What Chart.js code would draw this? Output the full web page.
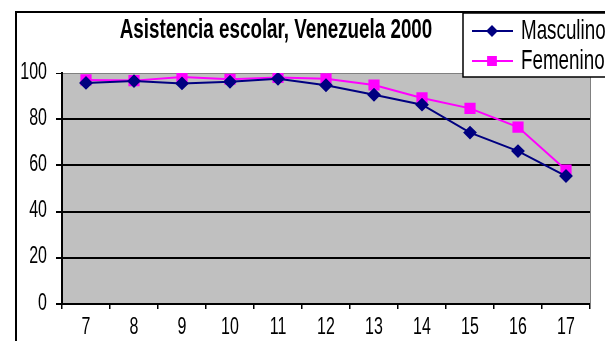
<!DOCTYPE html>
<html>
<head>
<meta charset="utf-8">
<script src="https://cdn.jsdelivr.net/npm/chart.js@4"></script>
<style>
  body { margin: 0; background: #fff; }
  #grafica { display: block; }
</style>
</head>
<body>
<canvas id="grafica" width="605" height="341"></canvas>
<script>
const edades = ['7', '8', '9', '10', '11', '12', '13', '14', '15', '16', '17'];
const masculino = [95.7, 96.5, 95.5, 96.2, 97.5, 94.7, 90.6, 86.3, 74.2, 66.2, 55.4];
const femenino = [97.0, 96.7, 98.3, 97.3, 98.1, 97.5, 94.8, 89.2, 84.7, 76.6, 58.0];
const titulo = 'Asistencia escolar, Venezuela 2000';

const fuente = "'Liberation Sans', Arial, sans-serif";

// texto estirado (angosto y alto) como en el grafico original de Excel
function texto(ctx, str, x, y, align, size, bold) {
    ctx.save();
    ctx.translate(x, y);
    ctx.scale(0.94, 1.4);
    ctx.font = (bold ? 'bold ' : '') + size + 'px ' + fuente;
    ctx.textAlign = align;
    ctx.textBaseline = 'middle';
    ctx.fillStyle = '#000';
    ctx.fillText(str, 0, 0);
    ctx.restore();
}

const marco = {
    id: 'marco',
    beforeDraw(chart) {
        const ctx = chart.ctx;
        const a = chart.chartArea;
        ctx.save();
        ctx.fillStyle = '#C0C0C0';
        ctx.fillRect(a.left, a.top, a.right - a.left, a.bottom - a.top);
        ctx.strokeStyle = '#000';
        ctx.lineWidth = 2;
        ctx.strokeRect(16, 12, 700, 400);
        ctx.restore();
    },
    beforeDatasetsDraw(chart) {
        const ctx = chart.ctx;
        const a = chart.chartArea;
        ctx.save();
        ctx.strokeStyle = '#808080';
        ctx.lineWidth = 1;
        ctx.beginPath();
        ctx.moveTo(a.right + 0.5, a.top);
        ctx.lineTo(a.right + 0.5, a.bottom);
        ctx.stroke();
        ctx.restore();
    },
    afterDraw(chart) {
        const ctx = chart.ctx;
        const sx = chart.scales.x;
        const sy = chart.scales.y;

        // etiquetas de los ejes
        sx.ticks.forEach((t, i) => {
            texto(ctx, String(t.label), sx.getPixelForTick(i), 327, 'center', 17);
        });
        sy.ticks.forEach((t, i) => {
            texto(ctx, String(t.label), 47, sy.getPixelForTick(i) - 1, 'right', 17);
        });

        texto(ctx, titulo, 276, 30, 'center', 20, true);

        // leyenda
        ctx.save();
        ctx.fillStyle = '#fff';
        ctx.fillRect(463, 13, 200, 64);
        ctx.strokeStyle = '#000';
        ctx.lineWidth = 1.5;
        ctx.strokeRect(463, 13, 200, 64);
        const filas = [31, 61];
        chart.data.datasets.forEach((ds, i) => {
            const y = filas[i];
            ctx.strokeStyle = ds.borderColor;
            ctx.fillStyle = ds.borderColor;
            ctx.lineWidth = 2;
            ctx.beginPath();
            ctx.moveTo(472, y);
            ctx.lineTo(513, y);
            ctx.stroke();
            Chart.helpers.drawPoint(ctx, {
                pointStyle: ds.pointStyle,
                radius: ds.pointStyle === 'rect' ? 5.5 : 4.5,
                borderWidth: 1
            }, 492, y);
            texto(ctx, ds.label, 521, y, 'left', 20);
        });
        ctx.restore();
    }
};

new Chart(document.getElementById('grafica'), {
    type: 'line',
    data: {
        labels: edades,
        datasets: [{
            label: 'Masculino',
            data: masculino,
            borderColor: '#000080',
            backgroundColor: '#000080',
            borderWidth: 2,
            pointStyle: 'rectRot',
            pointRadius: 5.5,
            pointBackgroundColor: '#000080',
            pointBorderColor: '#000080',
            tension: 0
        }, {
            label: 'Femenino',
            data: femenino,
            borderColor: '#FF00FF',
            backgroundColor: '#FF00FF',
            borderWidth: 2,
            pointStyle: 'rect',
            pointRadius: 6.5,
            pointBackgroundColor: '#FF00FF',
            pointBorderColor: '#FF00FF',
            tension: 0
        }]
    },
    options: {
        responsive: false,
        animation: false,
        layout: { padding: { top: 73, right: 15, left: 0, bottom: 0 } },
        plugins: {
            legend: { display: false },
            title: { display: false },
            tooltip: { enabled: false }
        },
        scales: {
            x: {
                type: 'category',
                offset: true,
                afterFit(scale) { scale.height = 37; },
                grid: {
                    offset: true,
                    drawOnChartArea: false,
                    drawTicks: true,
                    tickLength: 5,
                    color: '#000',
                    lineWidth: 1.5
                },
                border: { display: true, color: '#000', width: 2 },
                ticks: {
                    color: 'rgba(0,0,0,0)',
                    font: { family: fuente, size: 17 },
                    padding: 2,
                    maxRotation: 0
                }
            },
            y: {
                min: 0,
                max: 100,
                afterFit(scale) { scale.width = 62; },
                grid: {
                    color: (c) => c.tick && c.tick.value === 100 ? '#808080' : '#000',
                    lineWidth: (c) => c.tick && c.tick.value === 100 ? 1 : 2,
                    tickColor: '#000',
                    tickLength: 6
                },
                border: { display: true, color: '#000', width: 2 },
                ticks: {
                    stepSize: 20,
                    color: 'rgba(0,0,0,0)',
                    font: { family: fuente, size: 17 },
                    padding: 7
                }
            }
        }
    },
    plugins: [marco]
});
</script>
</body>
</html>
